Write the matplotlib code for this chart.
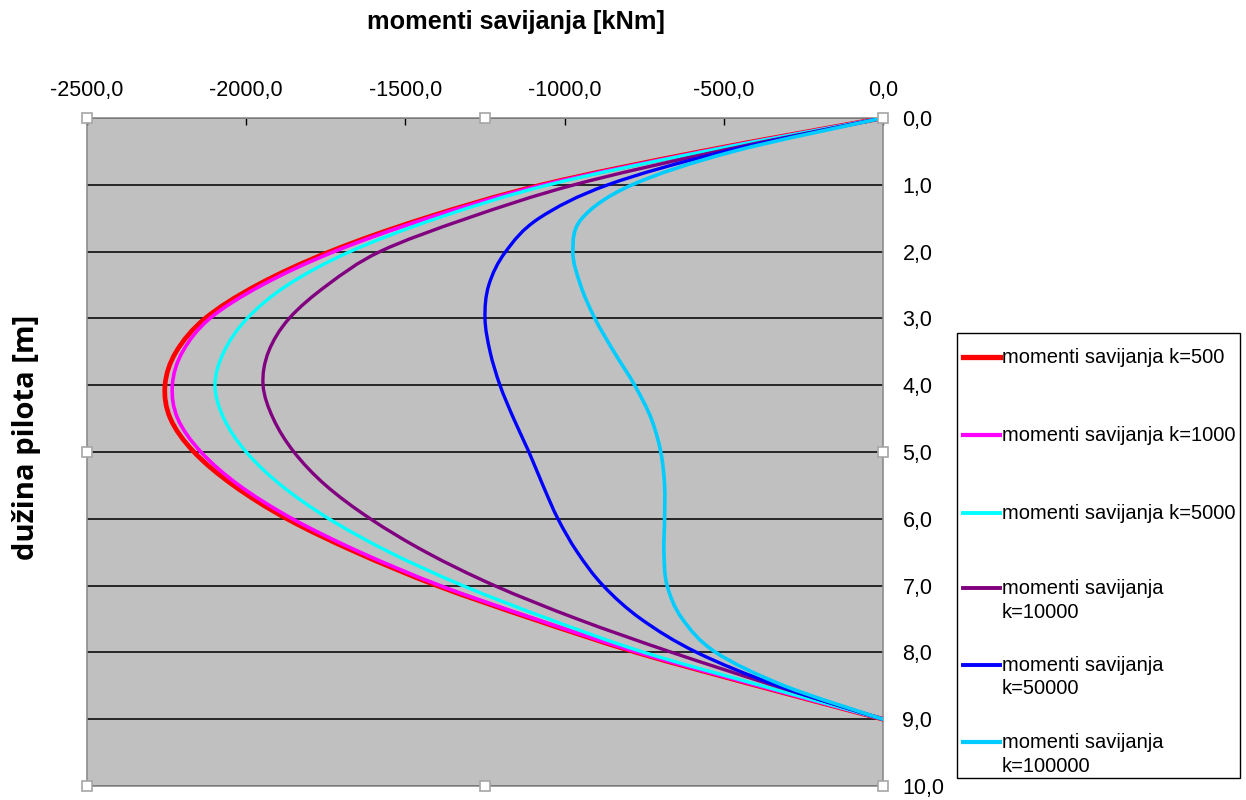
import matplotlib
matplotlib.use("Agg")
import matplotlib.pyplot as plt
from matplotlib.path import Path
from matplotlib.patches import PathPatch, Rectangle
from matplotlib.lines import Line2D
import numpy as np

plt.rcParams['font.family'] = ['Liberation Sans', 'DejaVu Sans']

# depth along the pile [m]
depth = [0.0, 0.5, 1.0, 1.5, 2.0, 2.5, 3.0, 3.5, 4.0, 4.5,
         5.0, 5.5, 6.0, 6.5, 7.0, 7.5, 8.0, 8.5, 9.0]

# bending moments [kNm]
m_k500 = [0, -570, -1071, -1440, -1737, -1965, -2129, -2220, -2255, -2238,
          -2164, -2040, -1872, -1655, -1401, -1100, -775, -395, 0]
m_k1000 = [0, -565, -1066, -1430, -1724, -1950, -2114, -2200, -2232, -2215,
           -2142, -2022, -1855, -1642, -1391, -1092, -770, -392, 0]
m_k5000 = [0, -560, -1050, -1400, -1674, -1870, -1997, -2070, -2098, -2070,
           -2000, -1890, -1740, -1550, -1320, -1050, -750, -380, 0]
m_k10000 = [0, -520, -970, -1305, -1580, -1745, -1865, -1930, -1947, -1915,
            -1850, -1750, -1610, -1435, -1220, -960, -663, -340, 0]
m_k50000 = [0, -496, -864, -1080, -1185, -1238, -1250, -1234, -1203, -1160,
            -1112, -1068, -1021, -960, -879, -760, -585, -330, 0]
m_k100000 = [0, -470, -788, -945, -974, -950, -905, -845, -780, -728,
             -698, -686, -686, -688, -678, -630, -525, -310, 0]

series = [m_k500, m_k1000, m_k5000, m_k10000, m_k50000, m_k100000]
labels = ["momenti savijanja k=500", "momenti savijanja k=1000",
          "momenti savijanja k=5000", "momenti savijanja\nk=10000",
          "momenti savijanja\nk=50000", "momenti savijanja\nk=100000"]
colors = ["#FF0000", "#FF00FF", "#00FFFF", "#800080", "#0000FF", "#00CCFF"]
widths = [3.4, 2.6, 2.4, 2.4, 2.4, 2.6]

x_ticks = [-2500, -2000, -1500, -1000, -500, 0]
y_ticks = [0, 1, 2, 3, 4, 5, 6, 7, 8, 9, 10]


def smooth_path(xs, ys):
    # excel-style smoothed line: bezier segments through the data points
    p = np.column_stack([xs, ys]).astype(float)
    n = len(p)
    verts = [p[0]]
    codes = [Path.MOVETO]
    for i in range(n - 1):
        p0 = p[i - 1] if i > 0 else p[i]
        p3 = p[i + 2] if i + 2 < n else p[i + 1]
        c1 = p[i] + (p[i + 1] - p0) / 6.0
        c2 = p[i + 1] - (p3 - p[i]) / 6.0
        verts += [c1, c2, p[i + 1]]
        codes += [Path.CURVE4] * 3
    return Path(verts, codes)


W, H = 1246, 800
fig = plt.figure(figsize=(W / 100, H / 100), dpi=100)
ax = fig.add_axes([87 / W, 1 - 786 / H, (883 - 87) / W, (786 - 118) / H])
ax.set_facecolor("#C0C0C0")

for vals, c, lw in zip(series, colors, widths):
    ax.add_patch(PathPatch(smooth_path(vals, depth), facecolor="none",
                           edgecolor=c, lw=lw, capstyle="round", zorder=3))

ax.set_xlim(-2500, 0)
ax.set_ylim(10, 0)

ax.xaxis.tick_top()
ax.set_xticks(x_ticks)
ax.set_xticklabels([f"{v:.1f}".replace(".", ",") for v in x_ticks])
ax.tick_params(axis="x", direction="in", length=5, width=1, colors="black",
               labelsize=15.5, pad=12)

ax.yaxis.tick_right()
ax.set_yticks(y_ticks)
ax.set_yticklabels([f"{v:.1f}".replace(".", ",") for v in y_ticks])
ax.tick_params(axis="y", length=0, labelsize=15.5, pad=14)

ax.grid(axis="y", color="#1a1a1a", lw=1.3)
ax.set_axisbelow(True)
for s in ax.spines.values():
    s.set_color("#8c8c8c")
    s.set_linewidth(1.2)

# selection handles around the plot area
hx = [0, 0.5, 1, 0, 1, 0, 0.5, 1]
hy = [1, 1, 1, 0.5, 0.5, 0, 0, 0]
ax.plot(hx, hy, "s", ms=7, mfc="white", mec="#a6a6a6", mew=1.2,
        transform=ax.transAxes, clip_on=False, zorder=5)

fig.text(516 / W, 1 - 22 / H, "momenti savijanja [kNm]", ha="center",
         va="center", fontsize=18.2, fontweight="bold")
fig.text(27 / W, 1 - 437 / H, "dužina pilota [m]", rotation=90,
         ha="center", va="center", fontsize=21, fontweight="bold",
         family=["Open Sans", "DejaVu Sans"])

# legend box
fig.add_artist(Rectangle((957 / W, 1 - 778 / H), (1240 - 957) / W,
                         (778 - 333) / H, transform=fig.transFigure,
                         facecolor="white", edgecolor="black", lw=1))
entry_y = [357, 435, 513, 588, 665, 742]
for lab, c, lw, yy in zip(labels, colors, widths, entry_y):
    fig.add_artist(Line2D([963 / W, 1000 / W], [1 - yy / H, 1 - yy / H],
                          color=c, lw=lw + 0.4, transform=fig.transFigure))
    fig.text(1002 / W, 1 - (yy - 9) / H, lab, ha="left", va="top",
             fontsize=14.5, linespacing=1.3)

fig.savefig("out.png", dpi=100)
